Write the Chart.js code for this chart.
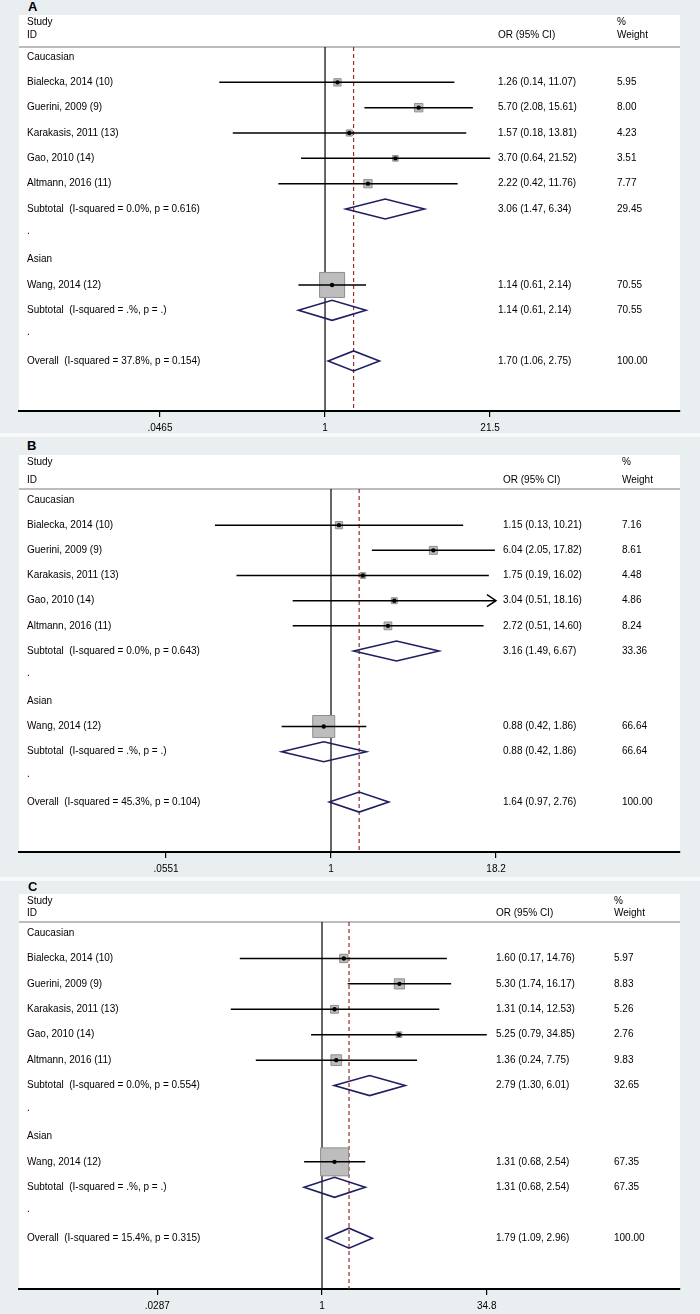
<!DOCTYPE html>
<html>
<head>
<meta charset="utf-8">
<script src="https://cdn.jsdelivr.net/npm/chart.js@4.4.1/dist/chart.umd.min.js"></script>
<style>
  html, body { margin: 0; padding: 0; }
  body { width: 700px; height: 1314px; background: #e9eef0; position: relative; overflow: hidden; font-family: "Liberation Sans", Arial, sans-serif; }
  .panel { position: absolute; left: 0; }
  .letter { position: absolute; font-weight: bold; font-size: 13px; line-height: 13px; color: #000; }
  .gap { position: absolute; left: 0; width: 700px; height: 4px; background: #f7f9fa; }
</style>
</head>
<body>
<div class="letter" style="left:28px;top:0px">A</div>
<canvas id="chartA" class="panel" style="top:15px" width="700" height="422"></canvas>
<div class="gap" style="top:433px"></div>
<div class="letter" style="left:27px;top:439px">B</div>
<canvas id="chartB" class="panel" style="top:455px" width="700" height="423"></canvas>
<div class="gap" style="top:877px"></div>
<div class="letter" style="left:28px;top:880px">C</div>
<canvas id="chartC" class="panel" style="top:894px" width="700" height="420"></canvas>

<script>
// Estudios y grupos (iguales en los tres paneles)
const groupNames = ['Caucasian', 'Asian'];
const studyNames = ['Bialecka, 2014 (10)', 'Guerini, 2009 (9)', 'Karakasis, 2011 (13)', 'Gao, 2010 (14)', 'Altmann, 2016 (11)', 'Wang, 2014 (12)'];
const studyGroup = [0, 0, 0, 0, 0, 1];

// Panel A
const orA = [1.26, 5.70, 1.57, 3.70, 2.22, 1.14];
const lowA = [0.14, 2.08, 0.18, 0.64, 0.42, 0.61];
const highA = [11.07, 15.61, 13.81, 21.52, 11.76, 2.14];
const weightA = [5.95, 8.00, 4.23, 3.51, 7.77, 70.55];
const arrowA = [false, false, false, false, false, false];
const poolA = [3.06, 1.14, 1.70];
const poolLowA = [1.47, 0.61, 1.06];
const poolHighA = [6.34, 2.14, 2.75];
const poolWeightA = [29.45, 70.55, 100.00];
const hetA = ['I-squared = 0.0%, p = 0.616', 'I-squared = .%, p = .', 'I-squared = 37.8%, p = 0.154'];
const tickValsA = [0.0465, 1, 21.5];
const tickTextA = ['.0465', '1', '21.5'];

// Panel B
const orB = [1.15, 6.04, 1.75, 3.04, 2.72, 0.88];
const lowB = [0.13, 2.05, 0.19, 0.51, 0.51, 0.42];
const highB = [10.21, 17.82, 16.02, 18.16, 14.60, 1.86];
const weightB = [7.16, 8.61, 4.48, 4.86, 8.24, 66.64];
const arrowB = [false, false, false, true, false, false];
const poolB = [3.16, 0.88, 1.64];
const poolLowB = [1.49, 0.42, 0.97];
const poolHighB = [6.67, 1.86, 2.76];
const poolWeightB = [33.36, 66.64, 100.00];
const hetB = ['I-squared = 0.0%, p = 0.643', 'I-squared = .%, p = .', 'I-squared = 45.3%, p = 0.104'];
const tickValsB = [0.0551, 1, 18.2];
const tickTextB = ['.0551', '1', '18.2'];

// Panel C
const orC = [1.60, 5.30, 1.31, 5.25, 1.36, 1.31];
const lowC = [0.17, 1.74, 0.14, 0.79, 0.24, 0.68];
const highC = [14.76, 16.17, 12.53, 34.85, 7.75, 2.54];
const weightC = [5.97, 8.83, 5.26, 2.76, 9.83, 67.35];
const arrowC = [false, false, false, false, false, false];
const poolC = [2.79, 1.31, 1.79];
const poolLowC = [1.30, 0.68, 1.09];
const poolHighC = [6.01, 2.54, 2.96];
const poolWeightC = [32.65, 67.35, 100.00];
const hetC = ['I-squared = 0.0%, p = 0.554', 'I-squared = .%, p = .', 'I-squared = 15.4%, p = 0.315'];
const tickValsC = [0.0287, 1, 34.8];
const tickTextC = ['.0287', '1', '34.8'];

const FONT = '10px "Liberation Sans", Arial, sans-serif';
const NAVY = '#1e1e62';

function fmt(v) { return v.toFixed(2); }

// Filas: cabecera de grupo, estudios, subtotal, '.', ... y global
function buildRows(het) {
    const rows = [];
    let r = 0;
    groupNames.forEach((g, gi) => {
        rows.push({ row: r++, label: g });
        studyNames.forEach((s, si) => {
            if (studyGroup[si] === gi) rows.push({ row: r++, label: s, kind: 'study', idx: si });
        });
        rows.push({ row: r++, label: 'Subtotal  (' + het[gi] + ')', kind: 'pool', idx: gi });
        rows.push({ row: r++, label: '.' });
    });
    rows.push({ row: r++, label: 'Overall  (' + het[groupNames.length] + ')', kind: 'pool', idx: groupNames.length });
    return rows;
}

function makeForest(id, p) {
    const rows = buildRows(p.het);
    const studyRows = rows.filter(r => r.kind === 'study');
    const pts = studyRows.map(r => ({ x: p.est[r.idx], y: r.row }));
    const boxRadius = studyRows.map(r => p.boxK * Math.sqrt(p.weight[r.idx]) / Math.SQRT2);
    const overall = p.pool[p.pool.length - 1];

    const forestPlugin = {
        id: 'forest' + id,
        beforeDraw(chart) {
            const { ctx, chartArea } = chart;
            ctx.save();
            ctx.fillStyle = '#fff';
            ctx.fillRect(chartArea.left, 0, chartArea.right - chartArea.left, chartArea.bottom);
            // linea bajo la cabecera
            ctx.strokeStyle = '#a6a6a6';
            ctx.lineWidth = 1.5;
            ctx.beginPath();
            ctx.moveTo(chartArea.left, chartArea.top);
            ctx.lineTo(chartArea.right, chartArea.top);
            ctx.stroke();
            ctx.restore();
        },
        beforeDatasetsDraw(chart) {
            const { ctx, chartArea, scales: { x } } = chart;
            ctx.save();
            // linea de no efecto
            const x1 = x.getPixelForValue(1);
            ctx.strokeStyle = '#000';
            ctx.lineWidth = 1.2;
            ctx.beginPath();
            ctx.moveTo(x1, chartArea.top);
            ctx.lineTo(x1, chartArea.bottom);
            ctx.stroke();
            // efecto global (discontinua)
            const xo = x.getPixelForValue(overall);
            ctx.strokeStyle = '#9a2b2b';
            ctx.setLineDash([4, 3]);
            ctx.beginPath();
            ctx.moveTo(xo, chartArea.top);
            ctx.lineTo(xo, chartArea.bottom);
            ctx.stroke();
            ctx.restore();
        },
        afterDatasetDraw(chart, args) {
            if (args.index !== 1) return;
            const { ctx, scales: { x, y } } = chart;
            ctx.save();
            ctx.strokeStyle = '#000';
            ctx.lineWidth = 1.5;
            studyRows.forEach(r => {
                const yy = y.getPixelForValue(r.row);
                const xl = x.getPixelForValue(p.low[r.idx]);
                const xh = x.getPixelForValue(p.high[r.idx]);
                ctx.beginPath();
                ctx.moveTo(xl, yy);
                ctx.lineTo(xh, yy);
                ctx.stroke();
                if (p.arrow[r.idx]) {
                    ctx.beginPath();
                    ctx.moveTo(xh - 9, yy - 6);
                    ctx.lineTo(xh, yy);
                    ctx.lineTo(xh - 9, yy + 6);
                    ctx.stroke();
                }
            });
            ctx.restore();
        },
        afterDatasetsDraw(chart) {
            const { ctx, scales: { x, y } } = chart;
            ctx.save();
            ctx.strokeStyle = NAVY;
            ctx.lineWidth = 1.6;
            rows.filter(r => r.kind === 'pool').forEach(r => {
                const yy = y.getPixelForValue(r.row);
                const xl = x.getPixelForValue(p.poolLow[r.idx]);
                const xm = x.getPixelForValue(p.pool[r.idx]);
                const xh = x.getPixelForValue(p.poolHigh[r.idx]);
                ctx.beginPath();
                ctx.moveTo(xl, yy);
                ctx.lineTo(xm, yy - 10);
                ctx.lineTo(xh, yy);
                ctx.lineTo(xm, yy + 10);
                ctx.closePath();
                ctx.stroke();
            });
            ctx.restore();
        },
        afterDraw(chart) {
            const { ctx, chartArea, scales: { y } } = chart;
            ctx.save();
            ctx.font = FONT;
            ctx.fillStyle = '#000';
            ctx.textBaseline = 'middle';
            ctx.textAlign = 'left';
            const lx = chartArea.left + 8;
            ctx.fillText('Study', lx, chartArea.top + p.hdrStudy);
            ctx.fillText('ID', lx, chartArea.top + p.hdrId);
            ctx.fillText('OR (95% CI)', p.orX, chartArea.top + p.hdrId);
            ctx.fillText('%', p.wtX, chartArea.top + p.hdrStudy);
            ctx.fillText('Weight', p.wtX, chartArea.top + p.hdrId);
            rows.forEach(r => {
                const yy = y.getPixelForValue(r.row);
                ctx.fillText(r.label, lx, r.label === '.' ? yy - 3 : yy);
                if (r.kind === 'study') {
                    ctx.fillText(fmt(p.est[r.idx]) + ' (' + fmt(p.low[r.idx]) + ', ' + fmt(p.high[r.idx]) + ')', p.orX, yy);
                    ctx.fillText(fmt(p.weight[r.idx]), p.wtX, yy);
                } else if (r.kind === 'pool') {
                    ctx.fillText(fmt(p.pool[r.idx]) + ' (' + fmt(p.poolLow[r.idx]) + ', ' + fmt(p.poolHigh[r.idx]) + ')', p.orX, yy);
                    ctx.fillText(fmt(p.poolWeight[r.idx]), p.wtX, yy);
                }
            });
            ctx.restore();
        }
    };

    return new Chart(document.getElementById(id), {
        type: 'scatter',
        data: {
            datasets: [
                {
                    label: 'OR',
                    data: pts,
                    pointStyle: 'circle',
                    pointRadius: 2.2,
                    backgroundColor: '#000',
                    borderColor: '#000',
                    borderWidth: 0,
                    order: 0
                },
                {
                    label: 'Weight',
                    data: pts,
                    pointStyle: 'rect',
                    pointRadius: boxRadius,
                    backgroundColor: '#bdbdbd',
                    borderColor: '#8f8f8f',
                    borderWidth: 1,
                    order: 1
                }
            ]
        },
        options: {
            responsive: false,
            devicePixelRatio: 1,
            animation: false,
            events: [],
            layout: { autoPadding: false, padding: { left: 19, right: 20, top: p.padTop, bottom: 0 } },
            plugins: { legend: { display: false }, tooltip: { enabled: false } },
            scales: {
                x: {
                    type: 'logarithmic',
                    position: 'bottom',
                    min: p.xMin,
                    max: p.xMax,
                    afterBuildTicks: s => { s.ticks = p.ticks.map(v => ({ value: v })); },
                    afterFit: s => { s.height = p.axisH; s.paddingLeft = 0; s.paddingRight = 0; },
                    ticks: {
                        autoSkip: false,
                        maxRotation: 0,
                        padding: 5,
                        color: '#000',
                        font: { family: '"Liberation Sans", Arial, sans-serif', size: 10 },
                        callback: (v, i) => p.tickText[i]
                    },
                    grid: { display: true, drawOnChartArea: false, drawTicks: true, tickLength: 6, color: '#000', lineWidth: 1.2 },
                    border: { display: true, color: '#000', width: 2 }
                },
                y: {
                    type: 'linear',
                    reverse: true,
                    display: false,
                    min: p.yMin,
                    max: p.yMax
                }
            }
        },
        plugins: [forestPlugin]
    });
}

makeForest('chartA', {
    est: orA, low: lowA, high: highA, weight: weightA, arrow: arrowA,
    pool: poolA, poolLow: poolLowA, poolHigh: poolHighA, poolWeight: poolWeightA, het: hetA,
    ticks: tickValsA, tickText: tickTextA,
    xMin: 0.003385, xMax: 733.5, yMin: -0.395, yMax: 13.975,
    padTop: 32, axisH: 26, hdrStudy: -25, hdrId: -12, orX: 498, wtX: 617, boxK: 2.98
});

makeForest('chartB', {
    est: orB, low: lowB, high: highB, weight: weightB, arrow: arrowB,
    pool: poolB, poolLow: poolLowB, poolHigh: poolHighB, poolWeight: poolWeightB, het: hetB,
    ticks: tickValsB, tickText: tickTextB,
    xMin: 0.004156, xMax: 461, yMin: -0.437, yMax: 13.985,
    padTop: 34, axisH: 26, hdrStudy: -27, hdrId: -8.5, orX: 503, wtX: 622, boxK: 2.7
});

makeForest('chartC', {
    est: orC, low: lowC, high: highC, weight: weightC, arrow: arrowC,
    pool: poolC, poolLow: poolLowC, poolHigh: poolHighC, poolWeight: poolWeightC, het: hetC,
    ticks: tickValsC, tickText: tickTextC,
    xMin: 0.001458, xMax: 2243, yMin: -0.433, yMax: 14.0,
    padTop: 28, axisH: 25, hdrStudy: -21, hdrId: -9, orX: 496, wtX: 614, boxK: 3.41
});
</script>
</body>
</html>
